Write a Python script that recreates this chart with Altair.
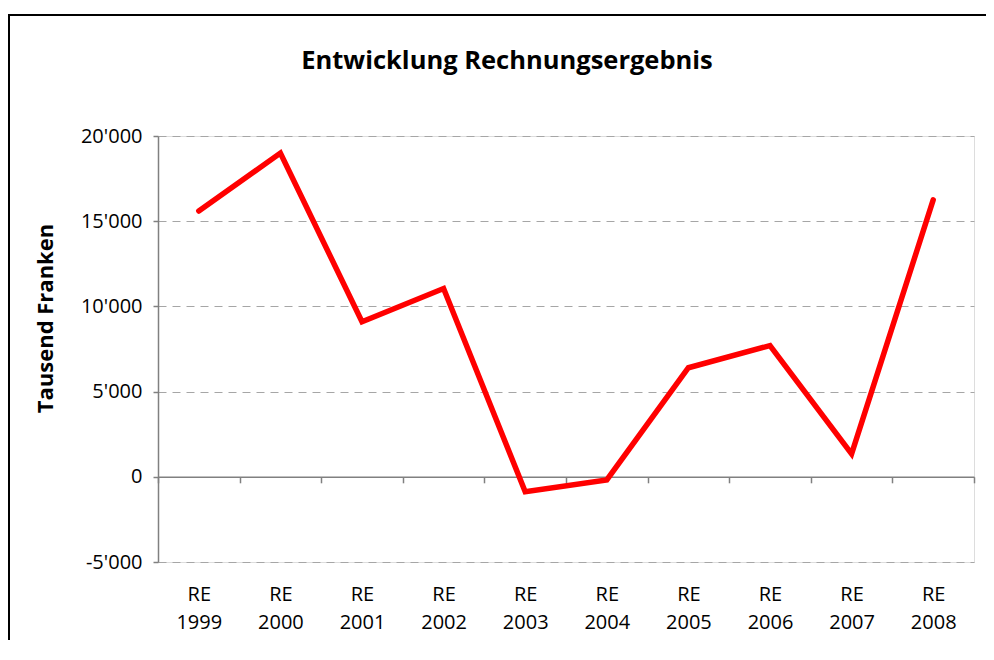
import altair as alt
import pandas as pd

# ---- data ----
prefix = "RE"
years = ["1999", "2000", "2001", "2002", "2003", "2004", "2005", "2006", "2007", "2008"]
values = [15600, 19000, 9100, 11050, -880, -180, 6400, 7700, 1350, 16250]
y_ticks = [-5000, 0, 5000, 10000, 15000, 20000]
title_text = "Entwicklung Rechnungsergebnis"
y_title = "Tausend Franken"

df = pd.DataFrame({"cat": [f"{prefix} {y}" for y in years], "value": values})

W, H = 816, 426
ymin, ymax = y_ticks[0], y_ticks[-1]
zero_offset = -H * (0 - ymin) / (ymax - ymin)

FONT = "Open Sans"
GRAY = "#808080"

x_enc = alt.X(
    "cat:N",
    sort=None,
    bandPosition=0.5,
    scale=alt.Scale(type="band", paddingInner=0, paddingOuter=0),
    axis=alt.Axis(
        title=None,
        orient="bottom",
        offset=zero_offset,
        domainColor=GRAY,
        domainWidth=1.5,
        ticks=True,
        tickBand="extent",
        tickColor=GRAY,
        tickWidth=1.5,
        tickSize=6,
        labelAngle=0,
        labelExpr="isValid(datum.value) ? split(datum.value, ' ') : ''",
        labelLineHeight=28,
        labelPadding=118,
        labelBaseline="alphabetic",
        labelFontSize=20,
        labelFont=FONT,
        labelColor="black",
        grid=False,
    ),
)

y_enc = alt.Y(
    "value:Q",
    scale=alt.Scale(domain=[ymin, ymax], nice=False, zero=False),
    axis=alt.Axis(
        title=y_title,
        titleFont=FONT,
        titleFontSize=22,
        titleFontWeight="bold",
        titleColor="black",
        titleAngle=-90,
        titleAlign="center",
        titleBaseline="alphabetic",
        titleX=-106,
        titleY=182,
        values=y_ticks,
        labelExpr="replace(replace(format(datum.value, ','), regexp(',', 'g'), \"'\"), '\u2212', '-')",
        labelFont=FONT,
        labelFontSize=20,
        labelColor="black",
        labelPadding=11,
        domainColor=GRAY,
        domainWidth=1.5,
        tickColor=GRAY,
        tickWidth=1.5,
        tickSize=5,
        grid=True,
        gridColor="#a6a6a6",
        gridDash=[8, 6],
        gridWidth=1,
    ),
)

one = pd.DataFrame({"k": [0]})
frame_top = alt.Chart(one).mark_rule(color="black", strokeWidth=2).encode(
    x=alt.value(-150), x2=alt.value(2000), y=alt.value(-121)
)
frame_left = alt.Chart(one).mark_rule(color="black", strokeWidth=2).encode(
    x=alt.value(-149), y=alt.value(-122), y2=alt.value(2000)
)

line = alt.Chart(df).mark_line(
    color="#ff0000", strokeWidth=5.5, strokeCap="round", strokeJoin="miter"
).encode(x=x_enc, y=y_enc)

chart = alt.layer(frame_top, frame_left, line).properties(
    width=W,
    height=H,
    title=alt.Title(
        title_text,
        font=FONT,
        fontSize=25.5,
        fontWeight="bold",
        color="black",
        anchor="middle",
        frame="group",
        orient="top",
        baseline="alphabetic",
        offset=0,
        dx=-59,
        dy=81,
    ),
    autosize=alt.AutoSizeParams(type="none"),
    padding={"left": 150, "top": 128, "right": 12, "bottom": 78},
).configure_view(stroke=None).configure(background="white")

chart.save("out.html", embed_options={"renderer": "svg", "actions": False})
